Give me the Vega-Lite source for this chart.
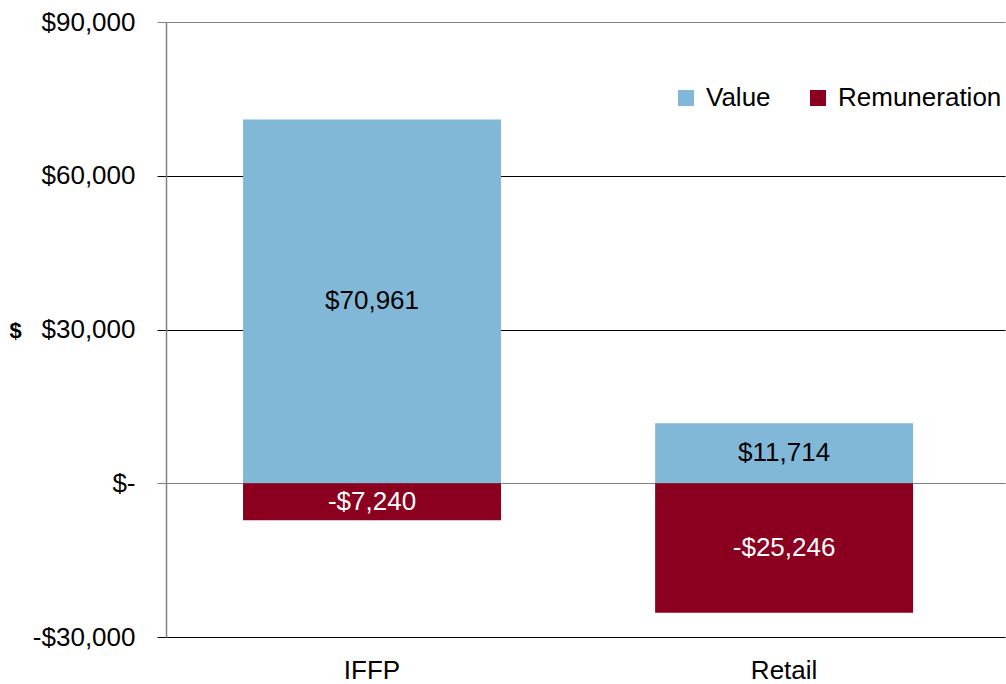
{
  "$schema": "https://vega.github.io/schema/vega-lite/v6.json",
  "width": 839,
  "height": 615,
  "autosize": "none",
  "padding": {"left": 166, "top": 22, "right": 1, "bottom": 47},
  "background": "white",
  "config": {
    "font": "Liberation Sans",
    "view": {"stroke": null}
  },
  "data": {
    "values": [
      {"category": "IFFP", "series": "Value", "value": 70961, "label": "$70,961"},
      {"category": "IFFP", "series": "Remuneration", "value": -7240, "label": "-$7,240"},
      {"category": "Retail", "series": "Value", "value": 11714, "label": "$11,714"},
      {"category": "Retail", "series": "Remuneration", "value": -25246, "label": "-$25,246"}
    ]
  },
  "encoding": {
    "x": {
      "field": "category",
      "type": "nominal",
      "scale": {"paddingInner": 0.374, "paddingOuter": 0.205, "align": 0.456},
      "axis": {
        "title": null,
        "labelAngle": 0,
        "domain": false,
        "ticks": false,
        "labelFontSize": 26,
        "labelColor": "black",
        "labelPadding": 20
      }
    }
  },
  "layer": [
    {
      "mark": {"type": "bar"},
      "encoding": {
        "y": {
          "field": "value",
          "type": "quantitative",
          "stack": "zero",
          "scale": {"domain": [-30000, 90000], "nice": false},
          "axis": {
            "values": [-30000, 0, 30000, 60000, 90000],
            "title": "$",
            "titleAngle": 0,
            "titleFontSize": 22,
            "titleFontWeight": "bold",
            "titleColor": "black",
            "titleX": -151,
            "titleY": 308,
            "titleAlign": "center",
            "titleBaseline": "middle",
            "labelExpr": "datum.value === 0 ? '$-' : (datum.value < 0 ? '-$' + format(-datum.value, ',') : '$' + format(datum.value, ','))",
            "labelFontSize": 26,
            "labelColor": "black",
            "labelPadding": 22,
            "tickSize": 9,
            "domainColor": "#808080",
            "domainWidth": 1.5,
            "gridColor": {"condition": {"test": "datum.value === 0 || datum.value === 90000", "value": "#808080"}, "value": "black"},
            "tickColor": {"condition": {"test": "datum.value === 0 || datum.value === 90000", "value": "#808080"}, "value": "black"},
            "gridOpacity": 1,
            "gridWidth": 1
          }
        },
        "color": {
          "field": "series",
          "type": "nominal",
          "sort": ["Value", "Remuneration"],
          "scale": {"domain": ["Value", "Remuneration"], "range": ["#82B8D7", "#8B001E"]},
          "legend": {
            "title": null,
            "orient": "none",
            "direction": "horizontal",
            "legendX": 507,
            "legendY": 63,
            "padding": 0,
            "symbolType": "square",
            "symbolSize": 256,
            "symbolStrokeWidth": 0,
            "symbolOpacity": 1,
            "labelFontSize": 26,
            "labelColor": "black",
            "labelOffset": 7,
            "labelLimit": 400,
            "columnPadding": 34
          }
        }
      }
    },
    {
      "transform": [{"calculate": "datum.value / 2", "as": "mid"}],
      "mark": {"type": "text", "fontSize": 26, "baseline": "middle", "align": "center"},
      "encoding": {
        "y": {"field": "mid", "type": "quantitative"},
        "text": {"field": "label"},
        "color": {
          "condition": {"test": "datum.series === 'Value'", "value": "black"},
          "value": "white"
        }
      }
    }
  ]
}
